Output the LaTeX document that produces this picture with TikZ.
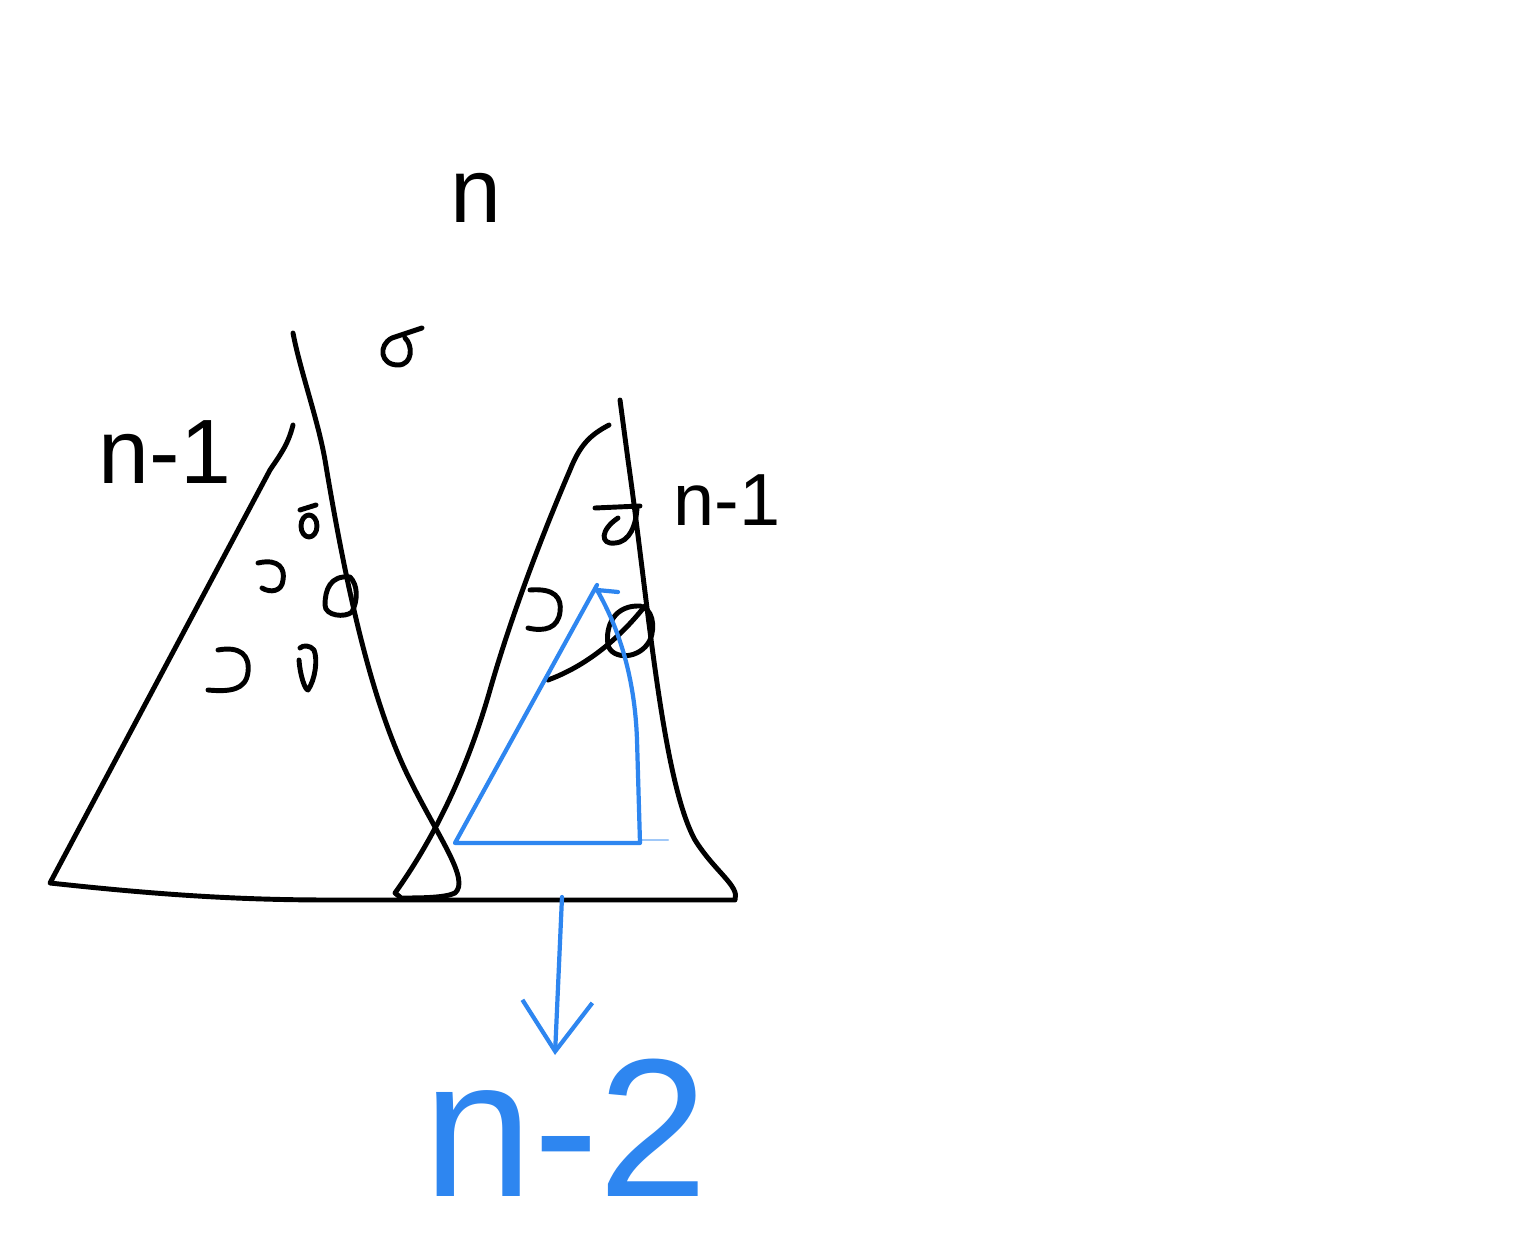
\documentclass[tikz,border=0pt]{standalone}
\usepackage{fontspec}
\setmainfont{Liberation Sans}
\usetikzlibrary{arrows.meta}
\definecolor{SketchBlue}{HTML}{2E86F0}

\begin{document}
\begin{tikzpicture}[
  x=0.01cm, y=-0.01cm,
  ink/.style={draw=black, line width=1.4pt, line cap=round, line join=round},
  bluepen/.style={draw=SketchBlue, line width=1.2pt, line cap=round, line join=round},
  bluefaint/.style={bluepen, line width=0.6pt, opacity=0.45},
  bluearr/.style={bluepen, -{Straight Barb[length=5mm, width=7mm, line width=1.2pt]}},
  lab/.style={font=\fontsize{26}{28}\selectfont, inner sep=0pt},
  smalllab/.style={font=\fontsize{21}{24}\selectfont, inner sep=0pt},
  bluelab/.style={text=SketchBlue, font=\fontsize{56}{60}\selectfont, inner sep=0pt}
]
\fill[white] (0,0) rectangle (1536,1246);
\useasboundingbox (0,0) rectangle (1536,1246);

\node[lab] (toplab) at (476,198) {n};
\node[lab] (leftlab) at (165,452) {n-1};
\node[smalllab] (rightlab) at (727,500) {n-1};
\node[bluelab] (nminustwo) at (566,1128) {n-2};

\draw[ink] (293,425) .. controls (288,445) and (280,455) .. (270,470) -- (50,883)
  .. controls (160,895) and (240,900) .. (330,900) -- (735,900)
  .. controls (740,886) and (715,872) .. (695,840)
  .. controls (662,780) and (648,600) .. (628,460) -- (620,400);
\draw[ink] (293,333) .. controls (300,370) and (318,420) .. (325,460)
  .. controls (345,580) and (370,700) .. (410,780)
  .. controls (440,840) and (470,880) .. (455,893)
  .. controls (445,898) and (420,898) .. (400,898);
\draw[ink] (609,425) .. controls (590,435) and (580,445) .. (570,470)
  .. controls (540,540) and (510,620) .. (490,690)
  .. controls (470,760) and (440,830) .. (395,893) -- (400,897);

\draw[ink] (422,328) -- (392,338) .. controls (378,345) and (380,365) .. (398,365)
  .. controls (413,365) and (413,345) .. (405,338);
\draw[ink] (300,510) -- (316,505);
\draw[ink] (309,526) ellipse [x radius=8, y radius=11];
\draw[ink] (258,563) .. controls (280,558) and (285,570) .. (283,580)
  .. controls (282,592) and (270,593) .. (262,588);
\draw[ink] (350,577) .. controls (330,575) and (325,590) .. (325,605)
  .. controls (325,616) and (345,618) .. (352,612)
  .. controls (358,600) and (358,585) .. (350,577);
\draw[ink] (218,650) .. controls (240,646) and (250,655) .. (248,672)
  .. controls (246,690) and (230,692) .. (208,690);
\draw[ink] (299,660) .. controls (300,675) and (305,690) .. (308,690)
  .. controls (315,680) and (318,660) .. (314,650)
  .. controls (310,645) and (303,645) .. (300,648);
\draw[ink] (595,508) -- (640,506);
\draw[ink] (618,518) .. controls (600,530) and (600,545) .. (615,543)
  .. controls (630,542) and (636,525) .. (637,508);
\draw[ink] (530,590) .. controls (555,588) and (562,598) .. (560,612)
  .. controls (558,628) and (545,632) .. (528,628);
\draw[ink] (640,606) .. controls (615,605) and (605,625) .. (608,645)
  .. controls (612,660) and (640,660) .. (650,640)
  .. controls (656,626) and (652,608) .. (640,606);
\draw[ink] (548,680) .. controls (575,670) and (610,650) .. (645,606);

\draw[bluepen] (597,585) -- (455,843) -- (640,843) -- (637,740)
  .. controls (635,680) and (620,630) .. (597,590) -- (618,592);
\draw[bluefaint] (640,840) -- (668,840);

\coordinate (arrstart) at (562,897);
\coordinate (arrend) at (555,1055);
\draw[bluearr] (arrstart) -- (arrend);
\end{tikzpicture}
\end{document}
